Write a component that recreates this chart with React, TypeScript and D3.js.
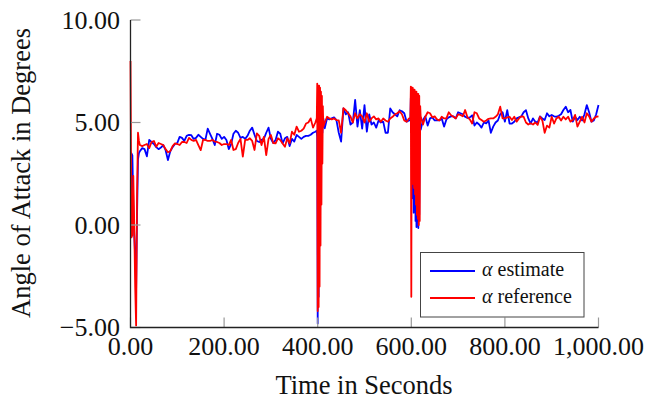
import React, { useEffect, useRef } from 'react';
import * as d3 from 'd3';

// sample times (s): dense around the three transients
const timeSec: number[] = [
  0, 2, 4, 6, 8, 10, 12, 14, 16, 18, 20,
  ...d3.range(25, 400, 5),
  ...d3.range(398, 413, 1),
  ...d3.range(415, 600, 5),
  ...d3.range(598, 621, 1),
  ...d3.range(625, 1001, 5),
];

const alphaEstimate: number[] = [
  // 0 - 20
  3.5, 3.5, 3.4, 1.0, -0.5, -1.5, -3.1, 0.5, 3.2, 3.5, 3.6,
  // 25 - 395
  3.75, 3.7, 3.35, 4.15, 4.05, 3.95, 3.8, 3.7, 3.78, 3.9,
  3.65, 3.17, 3.6, 3.8, 3.95, 4.0, 4.3, 4.25, 4.1, 4.35,
  4.4, 4.38, 4.2, 4.25, 4.4, 4.3, 4.2, 4.15, 4.7, 4.45,
  4.2, 3.9, 4.45, 4.4, 4.2, 4.3, 4.15, 3.7, 3.95, 4.45,
  4.6, 4.5, 4.25, 4.3, 4.2, 4.35, 4.6, 4.75, 4.4, 4.1,
  4.05, 4.15, 4.2, 4.5, 4.75, 4.2, 4.0, 4.15, 4.55, 4.45,
  3.98, 4.23, 4.3, 3.85, 4.2, 4.07, 4.39, 4.3, 4.2, 4.3,
  4.35, 4.35, 4.4, 4.5, 4.55,
  // 398 - 412
  4.6, 4.3, -4.8, 6.5, -3.5, 6.2, 1.7, 6.0, 1.5, 5.5, 3.0, 5.5, 4.5, 5.0, 5.2,
  // 415 - 595
  4.72, 5.2, 5.15, 5.2, 5.25, 5.12, 4.5, 4.07, 5.69, 5.4,
  5.5, 4.9, 5.0, 6.1, 4.8, 5.6, 4.7, 5.85, 4.55, 5.4,
  4.9, 5.0, 4.75, 5.1, 5.0, 5.04, 4.5, 4.5, 5.69, 5.5,
  5.4, 5.3, 5.6, 5.55, 5.45, 5.04, 5.1,
  // 598 - 620
  5.1, 6.2, 6.0, 6.3, 6.4, 1.3, 6.0, 0.6, 5.8, 1.0, 5.5, 0.2,
  5.5, -0.1, 5.0, 0.3, 5.0, -0.15, 4.8, 0.5, 4.8, 4.7, 4.65,
  // 625 - 1000
  5.12, 5.3, 4.85, 5.2, 5.25, 5.1, 5.12, 5.1, 5.2, 4.8,
  5.15, 5.25, 5.3, 5.3, 5.2, 5.5, 5.45, 5.4, 5.28, 5.22,
  5.25, 5.35, 4.85, 5.0, 4.9, 4.75, 5.0, 4.96, 5.1, 4.5,
  4.8, 5.0, 5.1, 5.4, 5.5, 5.04, 5.6, 4.95, 4.95, 5.04,
  5.2, 5.25, 5.3, 5.5, 5.6, 5.2, 4.95, 5.2, 5.04, 5.0,
  5.3, 5.2, 5.12, 5.45, 5.3, 5.37, 5.3, 5.28, 5.33, 5.4,
  5.61, 5.77, 5.5, 5.61, 5.04, 5.28, 5.12, 5.28, 5.1, 5.4,
  5.85, 5.5, 5.04, 5.1, 5.4, 5.85,
];

const alphaReference: number[] = [
  // 0 - 20
  8.0, -0.6, -0.5, 2.4, 0.0, -3.0, -4.9, 1.5, 4.5, 4.1, 3.9,
  // 25 - 395
  3.85, 3.9, 3.95, 3.75, 4.05, 4.1, 3.82, 4.0, 3.95, 3.9,
  3.7, 3.55, 3.6, 3.85, 3.98, 3.95, 3.9, 4.05, 4.05, 4.0,
  4.25, 4.15, 4.1, 4.15, 3.9, 3.65, 4.15, 4.15, 4.1, 4.1,
  4.15, 4.07, 4.05, 4.0, 3.9, 3.95, 3.95, 3.9, 4.15, 3.66,
  3.7, 4.0, 4.2, 3.34, 4.15, 4.15, 4.23, 4.1, 3.66, 4.47,
  4.35, 3.9, 4.3, 3.41, 4.2, 4.39, 4.0, 3.98, 4.23, 4.15,
  3.98, 3.82, 4.23, 3.98, 4.55, 4.4, 4.8, 4.55, 4.6, 4.7,
  4.95, 5.0, 5.2, 4.75, 5.0,
  // 398 - 412
  5.2, 6.9, -4.2, 6.8, -4.0, 6.8, -3.0, 6.7, -1.0, 6.5, 1.0, 6.3, 3.0, 5.8, 4.8,
  // 415 - 595
  5.0, 5.28, 5.2, 5.15, 5.2, 5.12, 5.1, 4.5, 5.7, 5.6,
  5.45, 5.3, 5.0, 5.45, 5.2, 5.4, 5.3, 5.0, 5.45, 5.04,
  5.2, 5.3, 5.15, 5.2, 5.04, 5.2, 5.1, 5.04, 5.2, 5.28,
  5.4, 5.45, 5.55, 5.4, 5.1, 5.04, 5.2,
  // 598 - 620
  5.2, 6.75, -3.5, 6.7, 2.5, 6.7, 2.0, 6.6, 1.8, 6.6, 1.5, 6.5,
  1.0, 6.5, 0.5, 6.4, 0.3, 6.4, 0.0, 6.3, 0.2, 5.8, 5.3,
  // 625 - 1000
  4.9, 5.28, 5.5, 5.45, 5.25, 5.3, 5.15, 5.1, 5.28, 5.2,
  5.2, 5.5, 5.35, 5.28, 5.2, 5.4, 5.37, 5.3, 5.61, 5.25,
  5.15, 4.95, 5.5, 5.45, 5.2, 5.12, 5.04, 5.1, 5.18, 5.2,
  5.2, 5.28, 5.4, 5.77, 5.2, 5.2, 5.25, 5.28, 5.12, 5.28,
  5.04, 5.2, 5.3, 5.28, 5.0, 4.9, 4.96, 4.9, 5.0, 4.88,
  5.28, 5.1, 4.5, 4.85, 4.75, 5.28, 4.95, 5.2, 5.28, 5.1,
  5.28, 5.15, 5.28, 5.04, 5.12, 5.37, 4.8, 5.04, 5.28, 5.0,
  5.45, 5.3, 5.04, 5.2, 5.28, 5.3,
];

const xTicks = [0, 200, 400, 600, 800, 1000];
const yTicks = [-5, 0, 5, 10];
const legendLabels = ['estimate', 'reference'];

const FONT = "'Liberation Serif', 'Times New Roman', serif";

const App = () => {
  const ref = useRef<SVGSVGElement>(null);

  useEffect(() => {
    const svg = d3.select(ref.current);
    svg.selectAll('*').remove();

    const x = d3.scaleLinear().domain([0, 1000]).range([130.5, 598.5]);
    const y = d3.scaleLinear().domain([-5, 10]).range([327.5, 20]);
    const fmt = d3.format(',.2f');

    const line = d3
      .line<number>()
      .x((d, i) => x(timeSec[i]))
      .y(d => y(d));

    // data lines, reference drawn on top
    svg
      .append('path')
      .datum(alphaEstimate)
      .attr('fill', 'none')
      .attr('stroke', '#0000ff')
      .attr('stroke-width', 1.8)
      .attr('stroke-linejoin', 'round')
      .attr('d', line);

    svg
      .append('path')
      .datum(alphaReference)
      .attr('fill', 'none')
      .attr('stroke', '#ff0000')
      .attr('stroke-width', 1.8)
      .attr('stroke-linejoin', 'round')
      .attr('d', line);

    // ticks (inward, gray)
    svg
      .selectAll('.ytick')
      .data(yTicks)
      .enter()
      .append('line')
      .attr('x1', x(0))
      .attr('x2', x(0) + 10)
      .attr('y1', d => y(d))
      .attr('y2', d => y(d))
      .attr('stroke', '#999')
      .attr('stroke-width', 1.2);

    svg
      .selectAll('.xtick')
      .data(xTicks)
      .enter()
      .append('line')
      .attr('x1', d => x(d))
      .attr('x2', d => x(d))
      .attr('y1', y(-5))
      .attr('y2', y(-5) - 10)
      .attr('stroke', '#999')
      .attr('stroke-width', 1.2);

    // axis lines
    svg
      .append('path')
      .attr('d', `M${x(0)},${y(10)}V${y(-5)}H${x(1000)}`)
      .attr('fill', 'none')
      .attr('stroke', '#222')
      .attr('stroke-width', 1.3);

    // tick labels
    svg
      .selectAll('.ylabel')
      .data(yTicks)
      .enter()
      .append('text')
      .attr('x', 120)
      .attr('y', d => y(d))
      .attr('dy', '0.34em')
      .attr('text-anchor', 'end')
      .attr('font-family', FONT)
      .attr('font-size', 26)
      .attr('fill', '#111')
      .text(d => fmt(d));

    svg
      .selectAll('.xlabel')
      .data(xTicks)
      .enter()
      .append('text')
      .attr('x', d => x(d))
      .attr('y', 355)
      .attr('text-anchor', 'middle')
      .attr('font-family', FONT)
      .attr('font-size', 26)
      .attr('fill', '#111')
      .text(d => fmt(d));

    // axis titles
    svg
      .append('text')
      .attr('x', 364)
      .attr('y', 394)
      .attr('text-anchor', 'middle')
      .attr('font-family', FONT)
      .attr('font-size', 26.5)
      .attr('fill', '#111')
      .text('Time in Seconds');

    svg
      .append('text')
      .attr('transform', 'translate(30,173) rotate(-90)')
      .attr('text-anchor', 'middle')
      .attr('font-family', FONT)
      .attr('font-size', 26.5)
      .attr('fill', '#111')
      .text('Angle of Attack in Degrees');

    // legend
    const legend = svg.append('g');
    legend
      .append('rect')
      .attr('x', 420.5)
      .attr('y', 252.5)
      .attr('width', 163.5)
      .attr('height', 64.5)
      .attr('fill', '#fff')
      .attr('stroke', '#444')
      .attr('stroke-width', 1);

    const colors = ['#0000ff', '#ff0000'];
    legendLabels.forEach((label, i) => {
      const ly = 271 + i * 27;
      legend
        .append('line')
        .attr('x1', 430)
        .attr('x2', 475)
        .attr('y1', ly)
        .attr('y2', ly)
        .attr('stroke', colors[i])
        .attr('stroke-width', 1.8);
      const t = legend
        .append('text')
        .attr('x', 482)
        .attr('y', ly + 5)
        .attr('font-family', FONT)
        .attr('font-size', 20)
        .attr('fill', '#111');
      t.append('tspan').attr('font-style', 'italic').text('α');
      t.append('tspan').text(' ' + label);
    });
  }, []);

  return (
    <svg
      ref={ref}
      width={646}
      height={400}
      style={{ position: 'absolute', left: 0, top: 0, background: '#fff' }}
    />
  );
};

export default App;
